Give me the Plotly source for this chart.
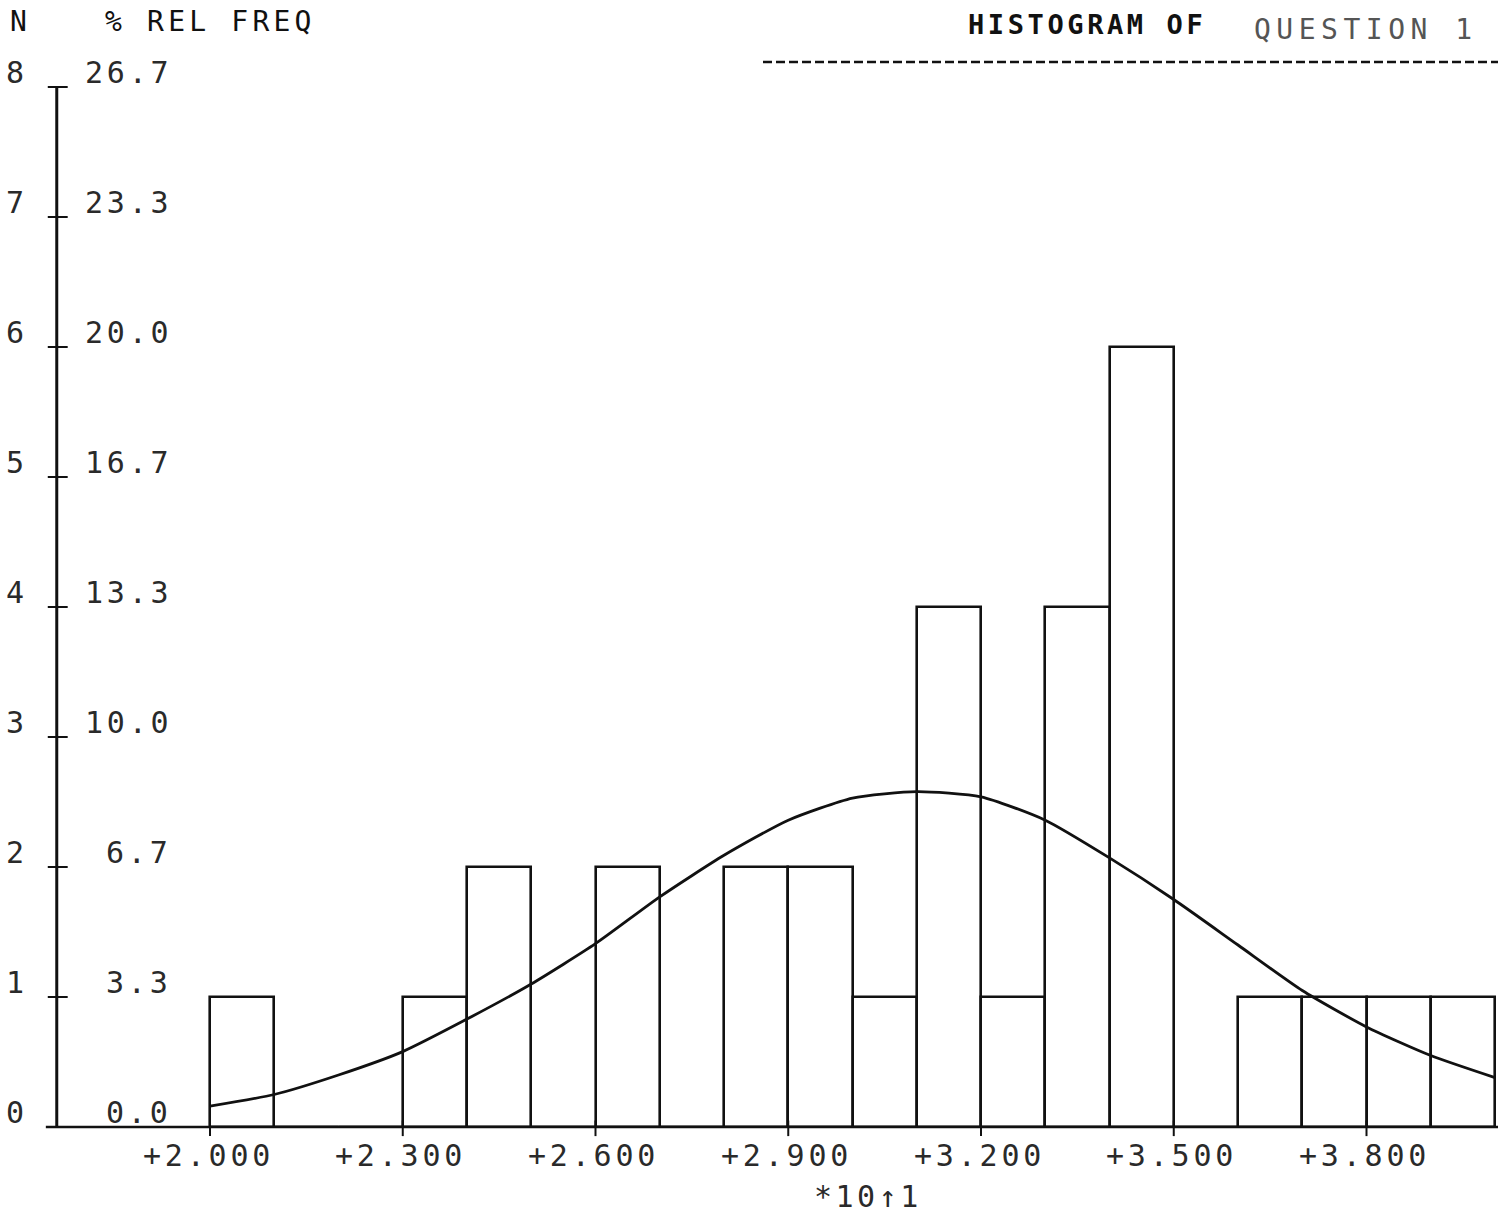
import plotly.graph_objects as go

# ---- data -------------------------------------------------------------
bin_centers = [2.05, 2.15, 2.25, 2.35, 2.45, 2.55, 2.65, 2.75, 2.85, 2.95,
               3.05, 3.15, 3.25, 3.35, 3.45, 3.55, 3.65, 3.75, 3.85, 3.95]
counts = [1, 0, 0, 1, 2, 0, 2, 0, 2, 2,
          1, 4, 1, 4, 6, 0, 1, 1, 1, 1]
bin_width = 0.1

# fitted normal curve, sampled at the bin edges
curve_x = [2.0, 2.1, 2.2, 2.3, 2.4, 2.5, 2.6, 2.7, 2.8, 2.9, 3.0,
           3.1, 3.2, 3.3, 3.4, 3.5, 3.6, 3.7, 3.8, 3.9, 4.0]
curve_y = [0.16, 0.25, 0.40, 0.58, 0.83, 1.10, 1.41, 1.77, 2.09, 2.36, 2.53,
           2.58, 2.54, 2.36, 2.07, 1.75, 1.40, 1.05, 0.77, 0.55, 0.38]

n_ticks = [0, 1, 2, 3, 4, 5, 6, 7, 8]
pct_labels = ["0.0", "3.3", "6.7", "10.0", "13.3", "16.7", "20.0", "23.3", "26.7"]
x_tick_vals = [2.0, 2.3, 2.6, 2.9, 3.2, 3.5, 3.8]
x_tick_text = ["+2.000", "+2.300", "+2.600", "+2.900", "+3.200", "+3.500", "+3.800"]

# ---- styling ----------------------------------------------------------
W, H = 1498, 1213
FONT = "DejaVu Sans Mono"
INK = "#111111"
AXIS_X = 1.7615          # position of the vertical N axis
X_RANGE = [1.67315, 4.00467]
Y_RANGE = [-0.6615, 8.6692]


def spaced(s, px):
    return f'<span style="letter-spacing:{px}px">{s}</span>'


fig = go.Figure()

fig.add_trace(go.Bar(
    x=bin_centers, y=counts, width=bin_width,
    marker=dict(color="rgba(0,0,0,0)", line=dict(color=INK, width=2.6)),
    hoverinfo="skip", showlegend=False,
))

fig.add_trace(go.Scatter(
    x=curve_x, y=curve_y, mode="lines",
    line=dict(color=INK, width=2.8, shape="spline", smoothing=0.6),
    hoverinfo="skip", showlegend=False,
))

shapes = []
# vertical N axis and horizontal baseline
shapes.append(dict(type="line", xref="x", yref="y", x0=AXIS_X, x1=AXIS_X,
                   y0=0, y1=n_ticks[-1], line=dict(color=INK, width=3)))
shapes.append(dict(type="line", xref="x", yref="y", x0=AXIS_X - 0.017,
                   x1=X_RANGE[1], y0=0, y1=0, line=dict(color=INK, width=2.5)))
# tick marks on the N axis
for n in n_ticks:
    shapes.append(dict(type="line", xref="x", yref="y",
                       x0=AXIS_X - 0.014, x1=AXIS_X + 0.017, y0=n, y1=n,
                       line=dict(color=INK, width=2)))
# tick marks on the x axis
for v in x_tick_vals:
    shapes.append(dict(type="line", xref="x", yref="y", x0=v, x1=v,
                       y0=-0.07, y1=0.05, line=dict(color=INK, width=2)))
# dashed rule under the title
shapes.append(dict(type="line", xref="paper", yref="paper",
                   x0=763 / W, x1=1.0, y0=1 - 62 / H, y1=1 - 62 / H,
                   line=dict(color=INK, width=2.5, dash="9px,4px")))

annotations = []
label_font = dict(family=FONT, size=30, color="#2a2a2a")
for n in n_ticks:
    annotations.append(dict(xref="paper", yref="y", x=15 / W, y=n, yshift=15,
                            text=str(n), showarrow=False,
                            xanchor="center", yanchor="middle", font=label_font))
for n, lab in zip(n_ticks, pct_labels):
    annotations.append(dict(xref="paper", yref="y", x=174 / W, y=n, yshift=15,
                            text=spaced(lab, 3.8), showarrow=False,
                            xanchor="right", yanchor="middle", font=label_font))
for v, lab in zip(x_tick_vals, x_tick_text):
    annotations.append(dict(xref="x", yref="paper", x=v, y=1 - 1155 / H,
                            xshift=-2, text=spaced(lab, 3.8), showarrow=False,
                            xanchor="center", yanchor="middle", font=label_font))
annotations.append(dict(xref="paper", yref="paper", x=868 / W, y=1 - 1196 / H,
                        text=spaced("*10\u21911", 3.5), showarrow=False,
                        xanchor="center", yanchor="middle", font=label_font))
# header texts
annotations.append(dict(xref="paper", yref="paper", x=8 / W, y=1 - 22 / H,
                        text="N", showarrow=False, xanchor="left",
                        yanchor="middle", font=dict(family=FONT, size=28, color=INK)))
annotations.append(dict(xref="paper", yref="paper", x=103 / W, y=1 - 22 / H,
                        text=spaced("% REL FREQ", 4.2), showarrow=False,
                        xanchor="left", yanchor="middle",
                        font=dict(family=FONT, size=28, color=INK)))
annotations.append(dict(xref="paper", yref="paper", x=966 / W, y=1 - 24 / H,
                        text=spaced("<b>HISTOGRAM OF</b>", 3.6), showarrow=False,
                        xanchor="left", yanchor="middle",
                        font=dict(family=FONT, size=27, color=INK)))
annotations.append(dict(xref="paper", yref="paper", x=1252 / W, y=1 - 30 / H,
                        text=spaced("QUESTION 1", 5.5), showarrow=False,
                        xanchor="left", yanchor="middle",
                        font=dict(family=FONT, size=28, color="#555555")))

fig.update_layout(
    width=W, height=H,
    margin=dict(l=0, r=0, t=0, b=0),
    paper_bgcolor="white", plot_bgcolor="white",
    bargap=0,
    xaxis=dict(range=X_RANGE, visible=False, fixedrange=True),
    yaxis=dict(range=Y_RANGE, visible=False, fixedrange=True),
    shapes=shapes, annotations=annotations,
    showlegend=False,
)

fig.write_html("out.html")
